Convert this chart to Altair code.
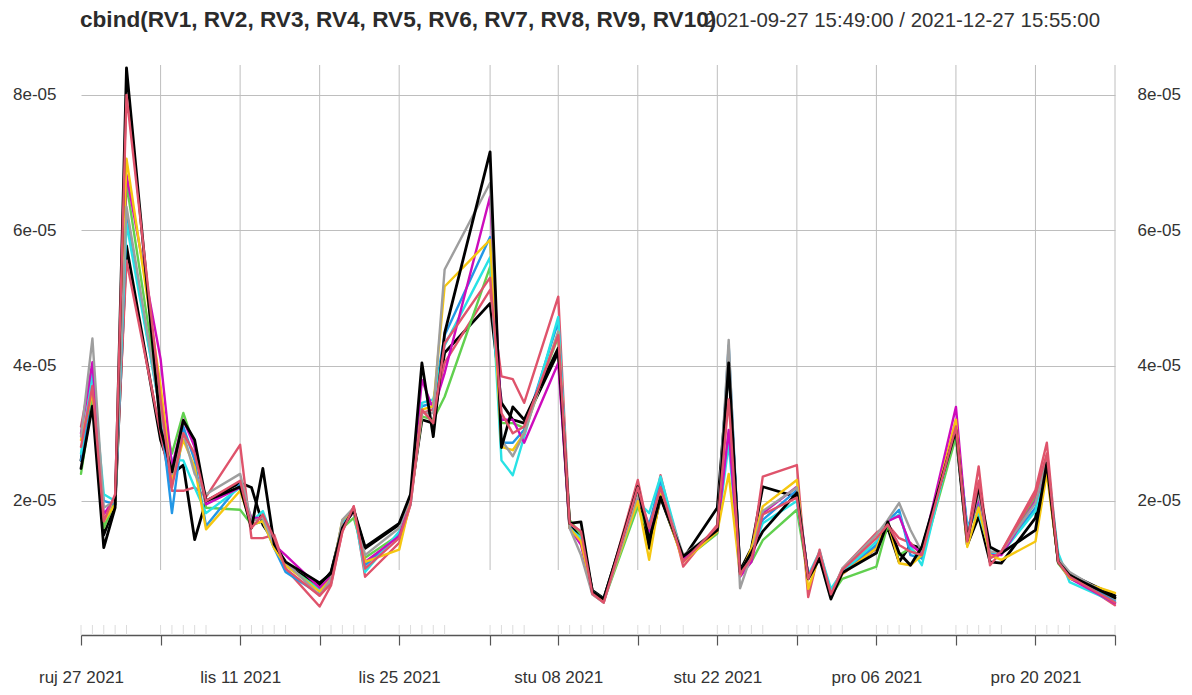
import altair as alt
import pandas as pd

# observation times (one per trading day)
dates = [
    "2021-09-27T15:49:00", "2021-09-28T15:55:00", "2021-09-29T15:55:00", "2021-09-30T15:55:00", "2021-10-01T15:55:00",
    "2021-10-04T15:55:00", "2021-10-05T15:55:00", "2021-10-06T15:55:00", "2021-10-07T15:55:00", "2021-10-08T15:55:00",
    "2021-10-11T15:55:00", "2021-10-12T15:55:00", "2021-10-13T15:55:00", "2021-10-14T15:55:00", "2021-10-15T15:55:00",
    "2021-10-18T15:55:00", "2021-10-19T15:55:00", "2021-10-20T15:55:00", "2021-10-21T15:55:00", "2021-10-22T15:55:00",
    "2021-10-25T15:55:00", "2021-10-26T15:55:00", "2021-10-27T15:55:00", "2021-10-28T15:55:00", "2021-10-29T15:55:00",
    "2021-11-02T15:55:00", "2021-11-03T15:55:00", "2021-11-04T15:55:00", "2021-11-05T15:55:00",
    "2021-11-08T15:55:00", "2021-11-09T15:55:00", "2021-11-10T15:55:00", "2021-11-11T15:55:00", "2021-11-12T15:55:00",
    "2021-11-15T15:55:00", "2021-11-16T15:55:00", "2021-11-17T15:55:00", "2021-11-19T15:55:00",
    "2021-11-22T15:55:00", "2021-11-23T15:55:00", "2021-11-24T15:55:00", "2021-11-25T15:55:00", "2021-11-26T15:55:00",
    "2021-11-29T15:55:00", "2021-11-30T15:55:00", "2021-12-01T15:55:00", "2021-12-02T15:55:00", "2021-12-03T15:55:00",
    "2021-12-06T15:55:00", "2021-12-07T15:55:00", "2021-12-08T15:55:00", "2021-12-09T15:55:00", "2021-12-10T15:55:00",
    "2021-12-13T15:55:00", "2021-12-14T15:55:00", "2021-12-15T15:55:00", "2021-12-16T15:55:00", "2021-12-17T15:55:00",
    "2021-12-20T15:55:00", "2021-12-21T15:55:00", "2021-12-22T15:55:00", "2021-12-23T15:55:00",
    "2021-12-27T15:55:00",
]

# first observation of each week (axis ticks)
tick_dates = [
    "2021-09-27T15:49:00", "2021-10-04T15:55:00", "2021-10-11T15:55:00", "2021-10-18T15:55:00",
    "2021-10-25T15:55:00", "2021-11-02T15:55:00", "2021-11-08T15:55:00", "2021-11-15T15:55:00",
    "2021-11-22T15:55:00", "2021-11-29T15:55:00", "2021-12-06T15:55:00", "2021-12-13T15:55:00",
    "2021-12-20T15:55:00", "2021-12-27T15:55:00",
]

y_ticks = [2e-05, 4e-05, 6e-05, 8e-05]

series_names = ["RV1", "RV2", "RV3", "RV4", "RV5", "RV6", "RV7", "RV8", "RV9", "RV10"]
series_colors = ["#000000", "#DF536B", "#61D04F", "#2297E6", "#28E2E5",
                 "#CD0BBC", "#F5C710", "#9E9E9E", "#000000", "#DF536B"]

# values in units of 1e-05
rv1 = [2.60, 3.60, 1.50, 1.95, 5.77,
       2.90, 2.40, 2.53, 1.43, 2.00,
       2.27, 2.20, 1.65, 1.40, 1.05,
       0.75, 0.95, 1.62, 1.85, 1.30,
       1.65, 2.05, 3.20, 3.15, 4.19,
       4.92, 3.45, 3.20, 3.15,
       4.20, 1.62, 1.50, 0.68, 0.56,
       2.15, 1.30, 2.05, 1.15,
       1.90, 4.00, 0.97, 1.30, 2.21,
       2.06, 0.88, 1.20, 0.60, 0.95,
       1.30, 1.60, 1.10, 1.35, 1.30,
       3.00, 1.35, 1.77, 1.10, 1.08,
       1.75, 2.55, 1.12, 0.92, 0.60]
rv2 = [3.10, 4.00, 1.60, 2.00, 5.55,
       3.00, 2.15, 2.15, 2.20, 2.06,
       2.83, 1.45, 1.45, 1.50, 1.00,
       0.44, 0.75, 1.55, 1.92, 0.88,
       1.38, 1.95, 3.30, 3.35, 4.04,
       5.12, 3.84, 3.80, 3.45,
       5.02, 1.67, 1.55, 0.62, 0.50,
       2.31, 1.52, 2.38, 1.03,
       1.65, 4.10, 0.90, 1.20, 2.36,
       2.53, 0.58, 1.28, 0.62, 1.00,
       1.53, 1.65, 1.45, 1.38, 1.20,
       3.20, 1.45, 2.51, 1.05, 1.25,
       2.16, 2.86, 1.08, 0.90, 0.46]
rv3 = [2.40, 3.50, 1.60, 2.00, 6.69,
       3.40, 2.70, 3.30, 2.80, 1.90,
       1.87, 1.65, 1.70, 1.35, 1.05,
       0.70, 0.90, 1.60, 1.75, 1.16,
       1.50, 2.05, 3.25, 3.20, 3.54,
       5.46, 3.15, 3.15, 3.08,
       4.43, 1.72, 1.50, 0.64, 0.52,
       1.92, 1.50, 2.10, 1.12,
       1.52, 3.00, 0.93, 1.10, 1.42,
       1.87, 0.86, 1.18, 0.60, 0.85,
       1.03, 1.65, 1.20, 1.30, 1.15,
       2.95, 1.55, 1.97, 1.18, 1.22,
       2.05, 2.55, 1.08, 0.86, 0.55]
rv4 = [2.60, 3.70, 2.00, 1.95, 6.20,
       3.30, 1.82, 3.10, 2.60, 1.63,
       2.25, 1.65, 1.70, 1.30, 0.95,
       0.62, 0.85, 1.70, 1.85, 1.05,
       1.50, 2.00, 3.40, 3.45, 4.45,
       5.90, 2.86, 2.86, 3.05,
       4.65, 1.62, 1.40, 0.63, 0.53,
       2.05, 1.65, 2.30, 1.15,
       1.55, 4.30, 0.95, 1.20, 1.72,
       2.16, 0.87, 1.22, 0.62, 0.95,
       1.35, 1.70, 1.87, 1.20, 1.15,
       3.10, 1.60, 2.00, 1.22, 1.25,
       1.90, 2.50, 1.12, 0.88, 0.52]
rv5 = [2.70, 3.90, 2.10, 2.00, 6.10,
       3.30, 2.60, 2.60, 2.20, 1.82,
       2.20, 1.70, 1.85, 1.40, 1.05,
       0.68, 0.80, 1.65, 1.85, 0.95,
       1.55, 1.95, 3.45, 3.50, 4.30,
       5.60, 2.60, 2.38, 2.95,
       4.72, 1.60, 1.45, 0.66, 0.55,
       1.99, 1.82, 2.36, 1.15,
       1.55, 2.85, 0.95, 1.25, 1.67,
       2.00, 0.90, 1.25, 0.70, 0.95,
       1.40, 1.70, 1.80, 1.32, 1.05,
       3.15, 1.62, 1.82, 1.25, 1.22,
       1.85, 2.60, 1.23, 0.80, 0.50]
rv6 = [3.00, 4.05, 1.80, 2.05, 6.82,
       4.10, 2.50, 3.20, 2.80, 1.95,
       2.20, 1.75, 1.75, 1.35, 1.20,
       0.72, 0.88, 1.62, 1.85, 1.10,
       1.48, 2.00, 3.79, 3.35, 3.89,
       6.50, 3.20, 3.20, 2.86,
       4.04, 1.60, 1.35, 0.65, 0.54,
       2.10, 1.55, 2.20, 1.15,
       1.55, 3.05, 0.88, 1.10, 1.82,
       2.21, 0.88, 1.20, 0.62, 0.92,
       1.30, 1.70, 1.78, 1.35, 1.23,
       3.39, 1.50, 2.05, 1.20, 1.20,
       2.00, 2.50, 1.10, 0.86, 0.49]
rv7 = [2.90, 3.60, 1.70, 1.95, 7.06,
       3.70, 2.30, 2.90, 2.50, 1.58,
       2.15, 1.65, 1.70, 1.30, 1.05,
       0.66, 0.85, 1.72, 1.85, 1.10,
       1.28, 2.00, 3.35, 3.40, 5.17,
       5.86, 2.80, 2.75, 3.00,
       4.50, 1.60, 1.40, 0.64, 0.53,
       2.00, 1.13, 2.10, 1.10,
       1.55, 2.40, 0.90, 1.30, 1.92,
       2.31, 0.70, 1.20, 0.60, 0.92,
       1.30, 1.70, 1.08, 1.05, 1.20,
       3.20, 1.32, 1.90, 1.20, 1.13,
       1.40, 2.41, 1.10, 0.86, 0.64]
rv8 = [2.95, 4.40, 1.90, 2.00, 6.35,
       3.30, 2.40, 3.00, 2.40, 2.10,
       2.40, 1.70, 1.75, 1.35, 1.10,
       0.60, 0.85, 1.72, 1.90, 1.20,
       1.60, 2.05, 3.30, 3.30, 5.42,
       6.70, 2.90, 2.66, 3.00,
       4.50, 1.60, 1.20, 0.62, 0.50,
       2.10, 1.60, 2.20, 1.20,
       1.58, 4.38, 0.71, 1.20, 1.85,
       2.20, 0.85, 1.22, 0.62, 1.00,
       1.50, 1.72, 1.97, 1.57, 1.25,
       3.05, 1.50, 2.10, 1.25, 1.25,
       1.97, 2.60, 1.15, 0.95, 0.55]
rv9 = [2.48, 3.40, 1.31, 1.90, 8.40,
       3.07, 2.43, 3.19, 2.90, 2.00,
       2.21, 1.60, 2.48, 1.36, 1.10,
       0.79, 0.93, 1.60, 1.87, 1.32,
       1.67, 2.10, 4.04, 2.95, 4.48,
       7.16, 2.79, 3.39, 3.20,
       4.26, 1.67, 1.69, 0.66, 0.55,
       2.21, 1.42, 2.06, 1.18,
       1.57, 4.04, 0.95, 1.24, 1.55,
       2.12, 0.85, 1.15, 0.55, 0.94,
       1.23, 1.69, 1.23, 1.05, 1.32,
       3.05, 1.42, 2.21, 1.32, 1.23,
       1.57, 2.56, 1.10, 0.90, 0.57]
rv10 = [2.80, 3.70, 1.70, 2.10, 8.00,
        3.50, 2.20, 3.00, 2.70, 2.00,
        2.30, 1.60, 1.80, 1.45, 1.00,
        0.60, 0.78, 1.55, 1.92, 1.00,
        1.45, 1.95, 3.35, 3.15, 4.33,
        5.30, 3.30, 3.00, 3.10,
        4.45, 1.67, 1.55, 0.63, 0.50,
        2.20, 1.60, 2.20, 1.10,
        1.62, 3.50, 0.92, 1.15, 1.80,
        2.05, 0.85, 1.25, 0.62, 0.98,
        1.45, 1.65, 1.35, 1.25, 1.20,
        3.10, 1.40, 2.30, 1.15, 1.25,
        2.10, 2.70, 1.10, 0.88, 0.50]

series_values = [rv1, rv2, rv3, rv4, rv5, rv6, rv7, rv8, rv9, rv10]

title_text = "cbind(RV1, RV2, RV3, RV4, RV5, RV6, RV7, RV8, RV9, RV10)"
range_text = "2021-09-27 15:49:00 / 2021-12-27 15:55:00"

FONT = "Liberation Sans"
W, H = 1034, 570

x_domain = [alt.DateTime(year=2021, month=9, date=27, hours=15, minutes=49),
            alt.DateTime(year=2021, month=12, date=27, hours=15, minutes=55)]
y_domain = [1.9e-07, 8.443e-05]

label_expr = (
    "floor((datum.value - datetime(2021, 8, 27, 15, 49)) / 604800000) % 2 == 0 "
    "&& datum.value < datetime(2021, 11, 27, 0, 0) ? "
    "['sij','velj','ožu','tra','svi','lip','srp','kol','ruj','lis','stu','pro'][month(datum.value)]"
    " + ' ' + timeFormat(datum.value, '%d %Y') : ''"
)

tick_dt = []
for s in tick_dates:
    d, t = s.split("T")
    yy, mm, dd = [int(v) for v in d.split("-")]
    hh, mi, _ = [int(v) for v in t.split(":")]
    tick_dt.append(alt.DateTime(year=yy, month=mm, date=dd, hours=hh, minutes=mi))

x_axis = alt.Axis(values=tick_dt, labelExpr=label_expr, grid=False, domainColor="#555555",
                  domainWidth=1.5, tickColor="#555555", tickWidth=1.2, tickSize=10,
                  labelPadding=24, labelFont=FONT, labelFontSize=17, labelColor="#333333",
                  labelOverlap=False, labelFlush=False, title=None)
x_enc = alt.X("date:T", scale=alt.Scale(domain=x_domain, nice=False), axis=x_axis)

y_fmt = "replace(format(datum.value, '.0e'), 'e-', 'e-0')"
y_left_axis = alt.Axis(values=y_ticks, labelExpr=y_fmt, orient="left", grid=True,
                       gridColor="#bebebe", gridWidth=1, domain=False, ticks=False, tickSize=0,
                       labelPadding=25, labelFont=FONT, labelFontSize=17, labelColor="#333333",
                       title=None)
y_right_axis = alt.Axis(values=y_ticks, labelExpr=y_fmt, orient="right", grid=False,
                        domain=False, ticks=False, tickSize=0,
                        labelPadding=22, labelFont=FONT, labelFontSize=17, labelColor="#333333",
                        title=None)
y_scale = alt.Scale(domain=y_domain, nice=False, zero=False)

rows = []
for name, vals in zip(series_names, series_values):
    for d, v in zip(dates, vals):
        rows.append({"date": d, "series": name, "value": v * 1e-05})
df = pd.DataFrame(rows)

layers = []

# vertical grid lines (all week ticks except the first)
vgrid_df = pd.DataFrame({"date": tick_dates[1:]})
layers.append(
    alt.Chart(vgrid_df).mark_rule(color="#bebebe", strokeWidth=1).encode(
        x=x_enc, y=alt.value(0), y2=alt.value(505))
)

# minor ticks at each observation
minor_df = pd.DataFrame({"date": dates})
layers.append(
    alt.Chart(minor_df).mark_rule(color="#dcdcdc", strokeWidth=1).encode(
        x=x_enc, y=alt.value(560), y2=alt.value(570))
)

for i, (name, col) in enumerate(zip(series_names, series_colors)):
    if i == 0:
        y_enc = alt.Y("value:Q", scale=y_scale, axis=y_left_axis)
    elif i == 1:
        y_enc = alt.Y("value:Q", scale=y_scale, axis=y_right_axis)
    else:
        y_enc = alt.Y("value:Q", scale=y_scale, axis=None)
    sw = 2.8 if col == "#000000" else 2.4
    layers.append(
        alt.Chart(df[df.series == name]).mark_line(
            color=col, strokeWidth=sw, strokeJoin="round", strokeCap="round"
        ).encode(x=x_enc, y=y_enc)
    )

title_df = pd.DataFrame({"t": [title_text]})
layers.append(
    alt.Chart(title_df).mark_text(align="left", baseline="middle", font=FONT, fontSize=22.6,
                                  fontWeight="bold", color="#2b2b2b").encode(
        text="t:N", x=alt.value(-1), y=alt.value(-45))
)
range_df = pd.DataFrame({"t": [range_text]})
layers.append(
    alt.Chart(range_df).mark_text(align="right", baseline="middle", font=FONT, fontSize=20.4,
                                  color="#333333").encode(
        text="t:N", x=alt.value(1019), y=alt.value(-44))
)

chart = alt.layer(*layers).resolve_axis(y="independent").properties(
    width=W, height=H,
    autosize=alt.AutoSizeParams(type="none"),
    padding={"left": 73, "top": 57, "right": 68, "bottom": 52},
    background="white",
).configure_view(stroke=None)

chart.save("out.html", embed_options={"renderer": "svg", "actions": False})
